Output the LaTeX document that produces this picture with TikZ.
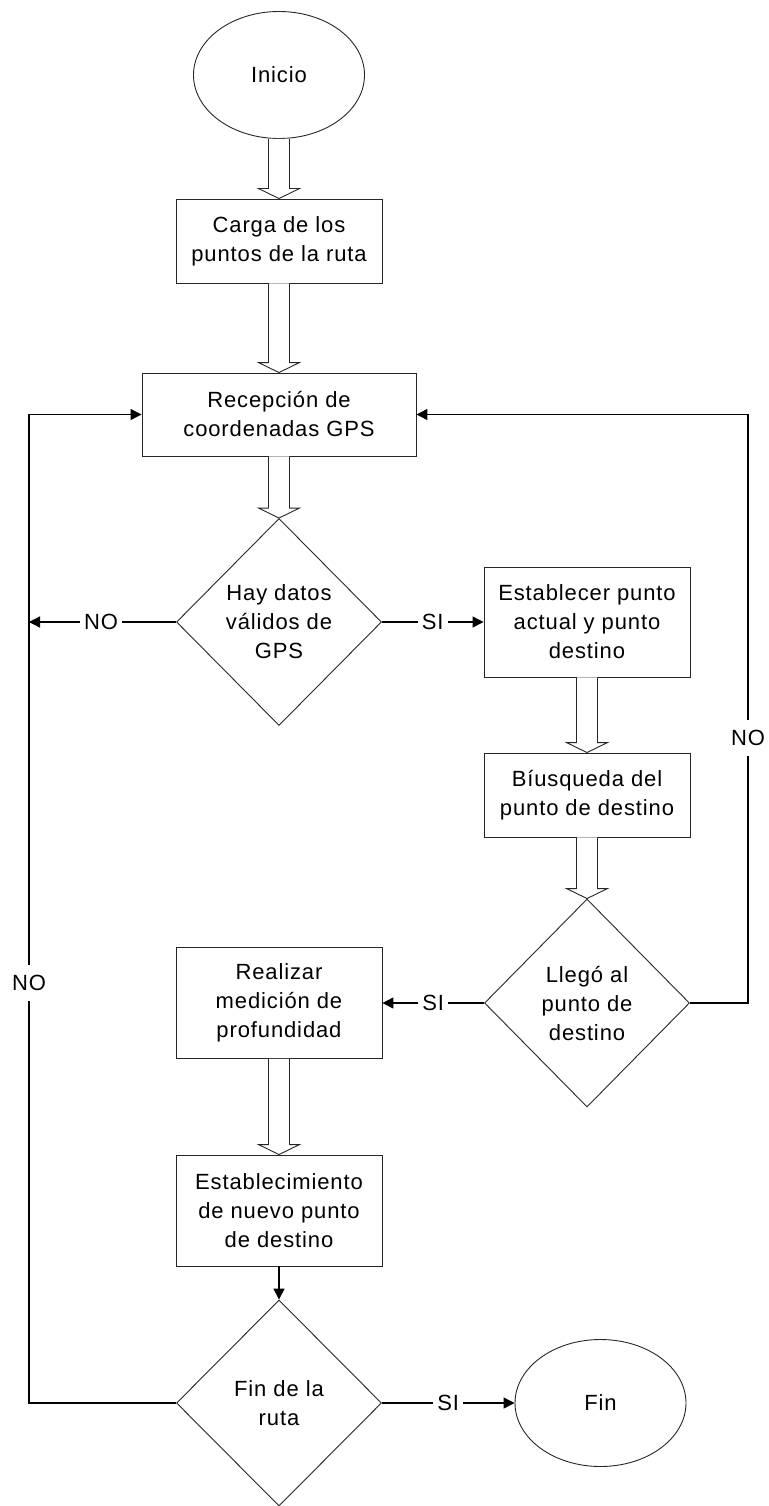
\documentclass[tikz,border=0pt]{standalone}
\usepackage{fontspec}
\setmainfont{Liberation Sans}[LetterSpace=4.0]
\usetikzlibrary{shapes.geometric,arrows.meta,calc}

\tikzset{
  txt/.style={font=\fontsize{22}{29}\selectfont, align=center},
  base/.style={txt, draw=black!85, line width=0.9pt, inner sep=0pt},
  procbox/.style={base, rectangle, minimum width=206pt},
  decision/.style={base, diamond, minimum width=205pt, minimum height=207pt},
  terminal/.style={base, ellipse, minimum width=171pt, minimum height=127pt},
  flow/.style={draw=black, line width=1.2pt, -{Triangle[length=11pt,width=11pt]}},
  lbl/.style={txt, fill=white, inner xsep=4pt, inner ysep=10pt},
  hollow/.style={draw=black!85, line width=0.9pt, fill=white, line join=miter},
}

% wide outlined arrow running from the bottom of one node to the top of the next
\newcommand{\hollowarrow}[2]{%
  \draw[hollow] ($(#1.south)+(-10.5,0)$) -- ($(#2.north)+(-10.5,-10)$)
    -- ($(#2.north)+(-20.5,-10)$) -- (#2.north) -- ($(#2.north)+(20.5,-10)$)
    -- ($(#2.north)+(10.5,-10)$) -- ($(#1.south)+(10.5,0)$);}

\begin{document}
\begin{tikzpicture}[x=1pt,y=-1pt]
  \useasboundingbox (0,0) rectangle (768,1506);

  % main column
  \node[terminal] (inicio) at (279,75) {Inicio};
  \node[procbox, minimum height=84pt] (carga) at (279,241) {Carga de los\\puntos de la ruta};
  \node[procbox, minimum width=274pt, minimum height=83pt] (recep) at (279,414.5) {Recepción de\\coordenadas GPS};
  \node[decision] (d1) at (279,622) {Hay datos\\válidos de\\GPS};

  % right column
  \node[procbox, minimum height=110pt] (estab) at (587,622) {Establecer punto\\actual y punto\\destino};
  \node[procbox, minimum height=84pt] (busq) at (587,795) {Bíusqueda del\\punto de destino};
  \node[decision, minimum height=208pt] (d2) at (587,1003) {Llegó al\\punto de\\destino};

  % lower column
  \node[procbox, minimum height=111pt] (medir) at (279,1003) {Realizar\\medición de\\profundidad};
  \node[procbox, minimum height=111pt] (nuevo) at (279,1210.5) {Establecimiento\\de nuevo punto\\de destino};
  \node[decision, minimum height=206pt] (d3) at (279,1403) {Fin de la\\ruta};
  \node[terminal] (fin) at (600.5,1403) {Fin};

  % loop-back rails
  \coordinate (railL) at (29,0);
  \coordinate (railR) at (748,0);

  % outlined flow arrows
  \hollowarrow{inicio}{carga}
  \hollowarrow{carga}{recep}
  \hollowarrow{recep}{d1}
  \hollowarrow{estab}{busq}
  \hollowarrow{busq}{d2}
  \hollowarrow{medir}{nuevo}

  % decision branches
  \draw[flow] (d1.west) -- node[lbl, pos=0.51] {NO} (railL |- d1.west);
  \draw[flow] (d1.east) -- node[lbl] {SI} (estab.west);
  \draw[flow] (d2.west) -- node[lbl] {SI} (medir.east);
  \draw[flow] (d2.east) -- (railR |- d2.east) -- (railR |- recep.east) -- (recep.east);
  \draw[flow] (nuevo.south) -- (d3.north);
  \draw[flow] (d3.west) -- (railL |- d3.west) -- (railL |- recep.west) -- (recep.west);
  \draw[flow] (d3.east) -- node[lbl] {SI} (fin.west);

  % labels on the rails
  \node[lbl] (noR) at (748,738) {NO};
  \node[lbl] (noL) at (29,983) {NO};
\end{tikzpicture}
\end{document}
